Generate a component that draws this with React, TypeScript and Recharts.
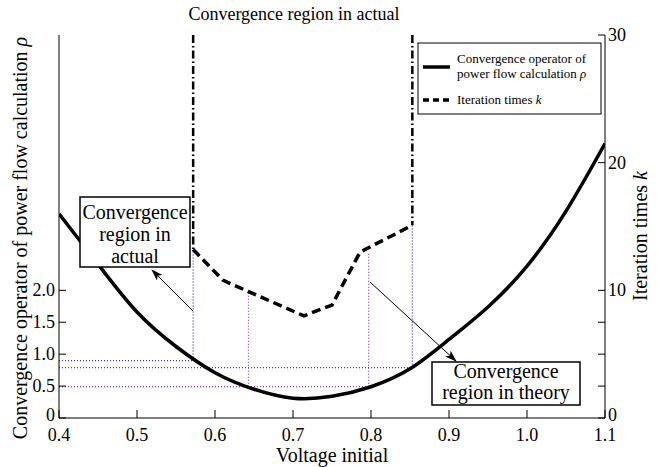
import { ComposedChart, Line, XAxis, YAxis } from "recharts";

const FONT = "'Liberation Serif', 'DejaVu Serif', 'Noto Serif', 'Times New Roman', serif";

// convergence operator rho (left axis)
const voltage = [0.4, 0.45, 0.5, 0.55, 0.6, 0.65, 0.7, 0.75, 0.8, 0.85, 0.9, 0.95, 1.0, 1.05, 1.1];
const rho = [3.2, 2.41, 1.66, 1.12, 0.71, 0.45, 0.31, 0.34, 0.49, 0.77, 1.23, 1.74, 2.38, 3.24, 4.3];

// iteration times k (right axis)
const kVoltage = [0.572, 0.61, 0.643, 0.714, 0.75, 0.786, 0.853];
const iterations = [13.2, 10.8, 9.9, 8.0, 8.85, 13.0, 15.1];

// actual convergence bounds (dash-dot)
const boundVoltage = [0.572, 0.853];
const boundFromK = [13.2, 15.1];
const kMax = 30;

// dotted guide lines: horizontal at rho level, vertical up to the k curve
const guideVoltage = [0.572, 0.853, 0.643, 0.797];
const guideRho = [0.9, 0.79, 0.49, 0.49];
const guideK = [13.2, 15.1, 9.9, 13.0];
const guideColor = ["#3a3ad0", "#3a3ad0", "#9a3fb0", "#9a3fb0"];

const xTicks = [0.4, 0.5, 0.6, 0.7, 0.8, 0.9, 1.0, 1.1];
const topTicks = [0.5, 0.6, 0.7, 0.8, 0.9, 1.0];
const leftTicks = [0, 0.5, 1, 1.5, 2];
const rightTicks = [0, 2.5, 5, 7.5, 10, 20, 30];
const rightLabels = [0, 10, 20, 30];

// left axis 0..6 lines up with right axis 0..30
const RATIO = 5;

const txt = { fontFamily: FONT, fill: "#000" };

function BottomTick(p: any) {
  const v = p.payload.value as number;
  return (
    <g>
      <line x1={p.x} x2={p.x} y1={p.y} y2={p.y - 8} stroke="#000" strokeWidth={1} />
      <text x={p.x} y={p.y + 23} textAnchor="middle" fontSize={18} style={txt}>
        {v.toFixed(1)}
      </text>
    </g>
  );
}

function LeftTick(p: any) {
  const v = p.payload.value as number;
  return (
    <g>
      <line x1={p.x} x2={p.x + 7} y1={p.y} y2={p.y} stroke="#000" strokeWidth={1} />
      <text x={p.x - 4} y={p.y + (v === 0 ? 3 : 6)} textAnchor="end" fontSize={18} style={txt}>
        {v === 0 ? "0" : v.toFixed(1)}
      </text>
    </g>
  );
}

function RightTick(p: any) {
  const v = p.payload.value as number;
  return (
    <g>
      <line x1={p.x} x2={p.x - 7} y1={p.y} y2={p.y} stroke="#000" strokeWidth={1} />
      {rightLabels.includes(v) && (
        <text x={p.x + 3} y={p.y + (v === 0 ? 3 : 6)} textAnchor="start" fontSize={18} style={txt}>
          {v}
        </text>
      )}
    </g>
  );
}

export default function App() {
  const rhoData = voltage.map((v, i) => ({ v, rho: rho[i] }));
  const kData = kVoltage.map((v, i) => ({ v, k: iterations[i] }));

  return (
    <div style={{ position: "absolute", left: 0, top: 0, width: 658, height: 467, background: "#fff", fontFamily: FONT }}>
      <ComposedChart width={658} height={467} margin={{ top: 35, right: 13, bottom: 9, left: 9 }}>
        <XAxis
          xAxisId="x"
          type="number"
          dataKey="v"
          domain={[0.4, 1.1]}
          ticks={xTicks}
          interval={0}
          height={40}
          tickSize={0}
          tickMargin={0}
          tickLine={false}
          axisLine={{ stroke: "#000" }}
          tick={BottomTick}
          allowDataOverflow
        />
        <XAxis
          xAxisId="top"
          orientation="top"
          type="number"
          domain={[0.4, 1.1]}
          ticks={topTicks}
          interval={0}
          mirror
          height={0}
          tick={false}
          tickSize={8}
          tickLine={{ stroke: "#000" }}
          axisLine={{ stroke: "#000" }}
        />
        <YAxis
          yAxisId="left"
          type="number"
          domain={[0, kMax / RATIO]}
          ticks={leftTicks}
          interval={0}
          width={50}
          tickSize={0}
          tickMargin={0}
          tickLine={false}
          axisLine={{ stroke: "#000" }}
          tick={LeftTick}
          allowDataOverflow
        />
        <YAxis
          yAxisId="right"
          orientation="right"
          type="number"
          domain={[0, kMax]}
          ticks={rightTicks}
          interval={0}
          width={40}
          tickSize={0}
          tickMargin={0}
          tickLine={false}
          axisLine={{ stroke: "#000" }}
          tick={RightTick}
          allowDataOverflow
        />

        {guideVoltage.map((gv, i) => (
          <Line
            key={`gh${i}`}
            xAxisId="x"
            yAxisId="left"
            data={[{ v: 0.4, y: guideRho[i] }, { v: gv, y: guideRho[i] }]}
            dataKey="y"
            stroke={guideColor[i]}
            strokeWidth={1.3}
            strokeDasharray="1 2"
            dot={false}
            activeDot={false}
            isAnimationActive={false}
          />
        ))}
        {guideVoltage.map((gv, i) => (
          <Line
            key={`gv${i}`}
            xAxisId="x"
            yAxisId="right"
            data={[{ v: gv, y: guideRho[i] * RATIO }, { v: gv, y: guideK[i] }]}
            dataKey="y"
            stroke={guideColor[i]}
            strokeWidth={1.3}
            strokeDasharray="1 2"
            dot={false}
            activeDot={false}
            isAnimationActive={false}
          />
        ))}
        {boundVoltage.map((bv, i) => (
          <Line
            key={`b${i}`}
            xAxisId="x"
            yAxisId="right"
            data={[{ v: bv, y: kMax }, { v: bv, y: boundFromK[i] }]}
            dataKey="y"
            stroke="#000"
            strokeWidth={2.5}
            strokeDasharray="8 3 1.5 3"
            dot={false}
            activeDot={false}
            isAnimationActive={false}
          />
        ))}

        <Line
          xAxisId="x"
          yAxisId="left"
          data={rhoData}
          dataKey="rho"
          type="natural"
          stroke="#000"
          strokeWidth={3.5}
          dot={false}
          activeDot={false}
          isAnimationActive={false}
        />
        <Line
          xAxisId="x"
          yAxisId="right"
          data={kData}
          dataKey="k"
          type="linear"
          stroke="#000"
          strokeWidth={3.5}
          strokeDasharray="9 5"
          dot={false}
          activeDot={false}
          isAnimationActive={false}
        />
      </ComposedChart>

      <svg
        width={658}
        height={467}
        style={{ position: "absolute", left: 0, top: 0, pointerEvents: "none", fontFamily: FONT }}
      >
        <defs>
          <marker id="arr" viewBox="0 0 12 8" refX="11" refY="4" markerWidth="12" markerHeight="8" markerUnits="userSpaceOnUse" orient="auto">
            <path d="M0,0 L12,4 L0,8 L3,4 z" fill="#000" />
          </marker>
        </defs>

        <text x={294} y={20} textAnchor="middle" fontSize={18} style={txt}>Convergence region in actual</text>
        <text x={332} y={462} textAnchor="middle" fontSize={20} style={txt}>Voltage initial</text>
        <text transform="translate(27,238) rotate(-90)" textAnchor="middle" fontSize={20} style={txt}>
          Convergence operator of power flow calculation <tspan fontStyle="italic">ρ</tspan>
        </text>
        <text transform="translate(647,236) rotate(-90)" textAnchor="middle" fontSize={20} style={txt}>
          Iteration times <tspan fontStyle="italic">k</tspan>
        </text>

        {/* legend */}
        <rect x={418} y={43} width={183} height={71} fill="#fff" stroke="#000" strokeWidth={1} />
        <line x1={423} x2={450} y1={67} y2={67} stroke="#000" strokeWidth={3.5} />
        <text x={457} y={63} fontSize={13} style={txt}>Convergence operator of</text>
        <text x={457} y={78} fontSize={13} style={txt}>
          power flow calculation <tspan fontStyle="italic">ρ</tspan>
        </text>
        <line x1={423} x2={450} y1={100} y2={100} stroke="#000" strokeWidth={3.5} strokeDasharray="6 4" />
        <text x={457} y={104} fontSize={13} style={txt}>
          Iteration times <tspan fontStyle="italic">k</tspan>
        </text>

        {/* annotation: actual */}
        <line x1={193} y1={311} x2={152} y2={270} stroke="#000" strokeWidth={1} markerEnd="url(#arr)" />
        <rect x={80} y={197} width={110} height={70} fill="#fff" stroke="#000" strokeWidth={1.5} />
        <text x={135} y={219} textAnchor="middle" fontSize={20} style={txt}>Convergence</text>
        <text x={135} y={241} textAnchor="middle" fontSize={20} style={txt}>region in</text>
        <text x={135} y={263} textAnchor="middle" fontSize={20} style={txt}>actual</text>

        {/* annotation: theory */}
        <line x1={370} y1={282} x2={456} y2={361} stroke="#000" strokeWidth={1} markerEnd="url(#arr)" />
        <rect x={432} y={362} width={148} height={43} fill="#fff" stroke="#000" strokeWidth={1.5} />
        <text x={506} y={378} textAnchor="middle" fontSize={20} style={txt}>Convergence</text>
        <text x={506} y={399} textAnchor="middle" fontSize={20} style={txt}>region in theory</text>
      </svg>
    </div>
  );
}
